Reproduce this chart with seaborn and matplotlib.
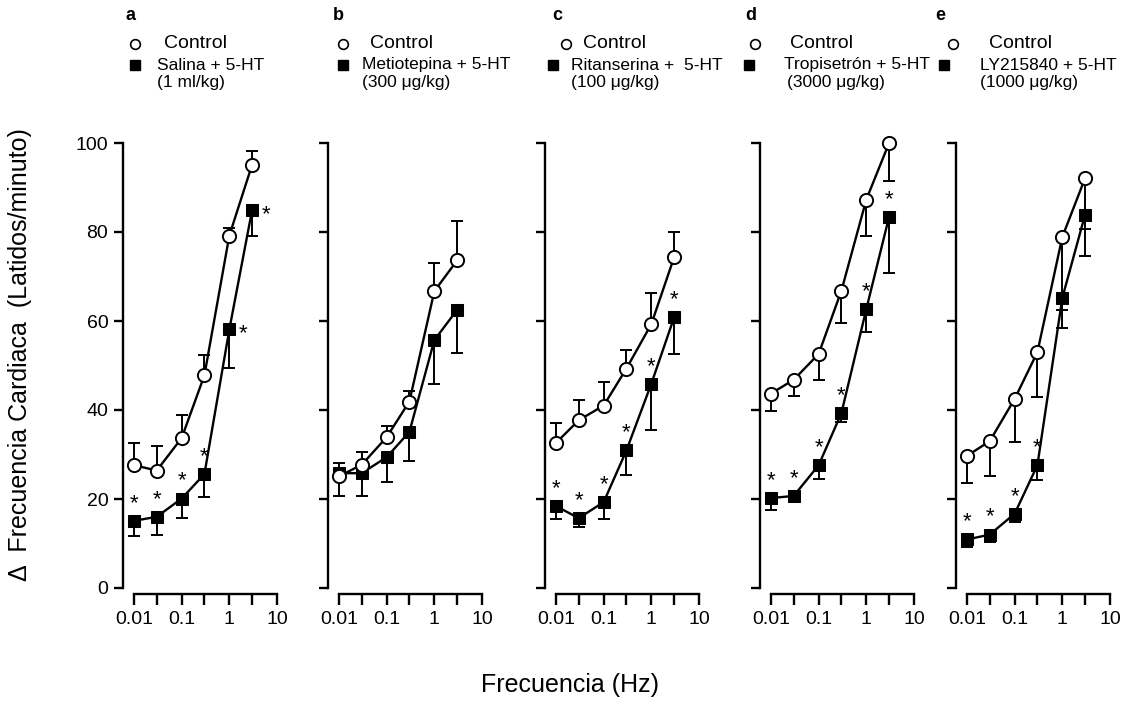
import matplotlib
matplotlib.use("Agg")
import matplotlib.pyplot as plt
from matplotlib.lines import Line2D
import numpy as np
import pandas as pd
import seaborn as sns

# ---------------- data ----------------
freq = [0.01, 0.03, 0.1, 0.3, 1, 3]
xtick_vals = [0.01, 0.03, 0.1, 0.3, 1, 3, 10]
xtick_labels = ["0.01", "", "0.1", "", "1", "", "10"]
ytick_vals = [0, 20, 40, 60, 80, 100]

panel_letters = ["a", "b", "c", "d", "e"]
treat_names = ["Salina + 5-HT", "Metiotepina + 5-HT", "Ritanserina +  5-HT",
               "Tropisetrón + 5-HT", "LY215840 + 5-HT"]
doses = ["(1 ml/kg)", "(300 \u03bcg/kg)", "(100 \u03bcg/kg)", "(3000 \u03bcg/kg)", "(1000 \u03bcg/kg)"]

ctrl_a = [27.6, 26.4, 33.7, 47.8, 79.2, 95.1]
ctrl_a_err = [5.0, 5.4, 5.1, 4.6, 1.7, 3.0]
trt_a = [15.1, 16.0, 20.1, 25.6, 58.1, 84.9]
trt_a_err = [3.5, 4.0, 4.4, 5.2, 8.7, 5.7]

ctrl_b = [25.1, 27.7, 33.9, 41.9, 66.7, 73.6]
ctrl_b_err = [3.1, 2.9, 2.4, 2.3, 6.3, 8.8]
trt_b = [25.8, 25.8, 29.4, 35.1, 55.7, 62.5]
trt_b_err = [5.1, 5.1, 5.6, 6.6, 9.9, 9.7]

ctrl_c = [32.6, 37.7, 41.0, 49.3, 59.3, 74.3]
ctrl_c_err = [4.5, 4.6, 5.2, 4.1, 7.0, 5.8]
trt_c = [18.4, 15.7, 19.3, 30.9, 45.9, 60.8]
trt_c_err = [3.0, 2.0, 3.7, 5.4, 10.3, 8.2]

ctrl_d = [43.7, 46.8, 52.6, 66.8, 87.3, 100.0]
ctrl_d_err = [4.0, 3.6, 5.9, 7.2, 8.1, 8.6]
trt_d = [20.2, 20.7, 27.6, 39.3, 62.7, 83.4]
trt_d_err = [2.6, 0.8, 3.0, 2.0, 5.2, 12.6]

ctrl_e = [29.7, 33.0, 42.5, 53.0, 78.9, 92.1]
ctrl_e_err = [6.0, 7.9, 9.7, 10.1, 16.4, 11.4]
trt_e = [10.9, 12.0, 16.7, 27.6, 65.2, 83.9]
trt_e_err = [1.7, 1.7, 1.9, 3.3, 6.8, 9.2]

# error direction of control series (+1 up, -1 down); treated always down
ctrl_err_dir = [1, 1, 1, -1, -1]

# asterisk flags: 0 none, 1 above, 2 right of marker
stars_a = [1, 1, 1, 1, 2, 2]
stars_b = [0, 0, 0, 0, 0, 0]
stars_c = [1, 1, 1, 1, 1, 1]
stars_d = [1, 1, 1, 1, 1, 1]
stars_e = [1, 1, 1, 1, 0, 0]

ctrls = [ctrl_a, ctrl_b, ctrl_c, ctrl_d, ctrl_e]
ctrl_errs = [ctrl_a_err, ctrl_b_err, ctrl_c_err, ctrl_d_err, ctrl_e_err]
trts = [trt_a, trt_b, trt_c, trt_d, trt_e]
trt_errs = [trt_a_err, trt_b_err, trt_c_err, trt_d_err, trt_e_err]
stars = [stars_a, stars_b, stars_c, stars_d, stars_e]

# ---------------- style ----------------
sns.set_style("ticks")
plt.rcParams["font.family"] = ["Liberation Sans", "DejaVu Sans"]
plt.rcParams["axes.linewidth"] = 1.7
for key in ["text.color", "axes.labelcolor", "xtick.color", "ytick.color", "axes.edgecolor"]:
    plt.rcParams[key] = "black"

W, H = 1133, 701
fig = plt.figure(figsize=(W / 100, H / 100), dpi=100)

def fx(x):
    return x / W

def fy(y):
    return 1 - y / H

# axes placement (pixels): x at 0.01 -> x at 10 ; y 0 at 588, 100 at 143
lefts = [134, 339, 556, 771, 967]
axw = 143
y0, y100 = 588, 143

for i in range(5):
    ax = fig.add_axes([fx(lefts[i]), fy(y0), axw / W, (y0 - y100) / H])
    ax.set_xscale("log")
    ax.set_xlim(0.01, 10)
    ax.set_ylim(0, 100)

    cdir = ctrl_err_dir[i]
    c = np.array(ctrls[i]); ce = np.array(ctrl_errs[i])
    t = np.array(trts[i]); te = np.array(trt_errs[i])
    zeros = np.zeros_like(ce)
    cyerr = [zeros, ce] if cdir > 0 else [ce, zeros]
    ax.errorbar(freq, c, yerr=cyerr, fmt="none", ecolor="black", elinewidth=1.4,
                capsize=4.5, capthick=1.4, zorder=2, clip_on=False)
    ax.errorbar(freq, t, yerr=[te, zeros], fmt="none", ecolor="black", elinewidth=1.4,
                capsize=4.5, capthick=1.4, zorder=2, clip_on=False)

    df_c = pd.DataFrame({"f": freq, "v": c})
    df_t = pd.DataFrame({"f": freq, "v": t})
    sns.lineplot(data=df_c, x="f", y="v", ax=ax, color="black", lw=1.7,
                 marker="o", markersize=9.5, markerfacecolor="white",
                 markeredgecolor="black", markeredgewidth=1.4, zorder=4, clip_on=False)
    sns.lineplot(data=df_t, x="f", y="v", ax=ax, color="black", lw=1.7,
                 marker="s", markersize=8.5, markerfacecolor="black",
                 markeredgecolor="black", zorder=3, clip_on=False)

    for j, s in enumerate(stars[i]):
        if s == 1:
            ax.annotate("*", (freq[j], t[j]), xytext=(0, 5), textcoords="offset points",
                        ha="center", va="bottom", fontsize=16, color="black")
        elif s == 2:
            ax.annotate("*", (freq[j], t[j]), xytext=(10, -3), textcoords="offset points",
                        ha="center", va="center", fontsize=16, color="black")

    sns.despine(ax=ax)
    ax.spines["left"].set_position(("outward", 8))
    ax.spines["bottom"].set_position(("outward", 4.5))
    ax.spines["left"].set_bounds(0, 100)
    ax.spines["bottom"].set_bounds(0.01, 10)
    ax.set_xticks(xtick_vals)
    ax.set_xticklabels(xtick_labels)
    ax.xaxis.set_minor_locator(matplotlib.ticker.NullLocator())
    ax.set_yticks(ytick_vals)
    if i == 0:
        ax.set_yticklabels([str(v) for v in ytick_vals])
    else:
        ax.set_yticklabels([])
    ax.tick_params(axis="x", length=8, width=1.7, labelsize=14, pad=4, colors="black")
    ax.tick_params(axis="y", length=6.5, width=1.7, labelsize=14, pad=4, colors="black")
    ax.set_xlabel("")
    ax.set_ylabel("")

# ---------------- legends / labels ----------------
letter_x = [126, 333, 552, 745, 935]
circ_x = [135, 343, 566, 755, 953]
ctrl_tx = [164, 370, 583, 790, 989]
sq_x = [135, 343, 553, 749, 944]
trt_tx = [157, 362, 571, 784, 980]
dose_tx = [157, 362, 571, 787, 980]
y_letter, y_ctrl, y_trt, y_dose = 15, 44, 65, 83

for i in range(5):
    fig.text(fx(letter_x[i]), fy(y_letter), panel_letters[i], fontsize=13,
             fontweight="bold", ha="left", va="center")
    fig.add_artist(Line2D([fx(circ_x[i])], [fy(y_ctrl)], marker="o", markersize=7,
                          markerfacecolor="white", markeredgecolor="black",
                          markeredgewidth=1.2, transform=fig.transFigure))
    fig.text(fx(ctrl_tx[i]), fy(y_ctrl), "Control", fontsize=14, ha="left", va="center")
    fig.add_artist(Line2D([fx(sq_x[i])], [fy(y_trt)], marker="s", markersize=7,
                          markerfacecolor="black", markeredgecolor="black",
                          transform=fig.transFigure))
    fig.text(fx(trt_tx[i]), fy(y_trt), treat_names[i], fontsize=12.5, ha="left", va="center")
    fig.text(fx(dose_tx[i]), fy(y_dose), doses[i], fontsize=12.5, ha="left", va="center")

fig.text(fx(20), fy(355), "\u0394  Frecuencia Cardiaca  (Latidos/minuto)", rotation=90,
         fontsize=18, ha="center", va="center")
fig.text(fx(570), fy(685), "Frecuencia (Hz)", fontsize=18, ha="center", va="center")

fig.savefig("out.png", dpi=100)
